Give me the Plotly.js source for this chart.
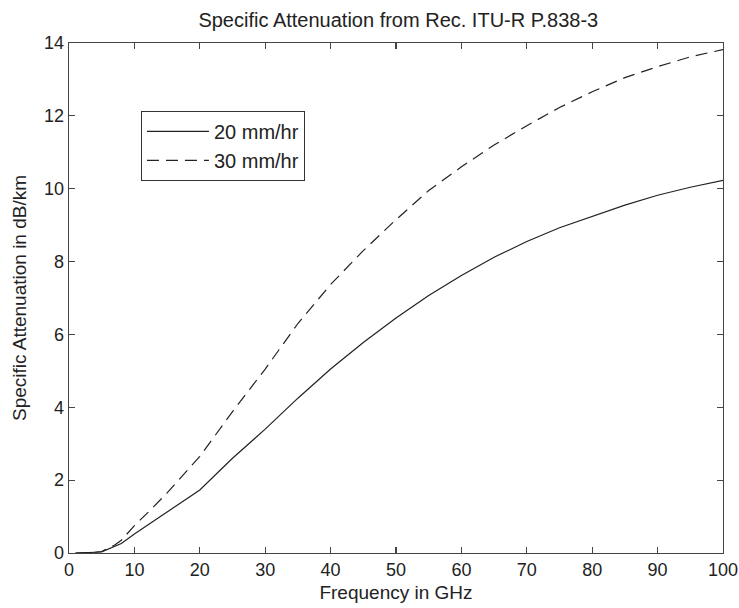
<!DOCTYPE html>
<html>
<head>
<meta charset="utf-8">
<script src="https://cdn.plot.ly/plotly-3.0.1.min.js"></script>
<style>html,body{margin:0;padding:0;background:#fff;}#chart{width:739px;height:608px;}</style>
</head>
<body>
<div id="chart"></div>
<script>
const freq = [1, 2, 3, 4, 5, 6, 7, 8, 10, 12, 15, 20, 25, 30, 35, 40, 45, 50, 55, 60, 65, 70, 75, 80, 85, 90, 95, 100];
const att20 = [0.0, 0.0, 0.01, 0.02, 0.03, 0.1, 0.17, 0.26, 0.52, 0.76, 1.12, 1.73, 2.6, 3.4, 4.25, 5.05, 5.78, 6.45, 7.07, 7.62, 8.12, 8.55, 8.93, 9.25, 9.55, 9.82, 10.04, 10.23];
const att30 = [0.0, 0.0, 0.01, 0.02, 0.04, 0.12, 0.22, 0.35, 0.75, 1.1, 1.65, 2.65, 3.88, 5.05, 6.3, 7.37, 8.3, 9.15, 9.95, 10.6, 11.2, 11.73, 12.23, 12.66, 13.05, 13.35, 13.62, 13.82];
const seriesNames = ['20 mm/hr', '30 mm/hr'];
const xTicks = [0, 10, 20, 30, 40, 50, 60, 70, 80, 90, 100];
const yTicks = [0, 2, 4, 6, 8, 10, 12, 14];

const font = 'Liberation Sans, Arial, sans-serif';
const traces = [
  {x: freq, y: att20, name: seriesNames[0], mode: 'lines', line: {color: '#222', width: 1.2, dash: 'solid'}},
  {x: freq, y: att30, name: seriesNames[1], mode: 'lines', line: {color: '#222', width: 1.2, dash: '12px,7px'}}
];
const axisCommon = {
  showgrid: false, zeroline: false, showline: true, linecolor: '#444', linewidth: 1.3,
  mirror: 'ticks', ticks: 'inside', ticklen: 6, tickcolor: '#444', tickwidth: 1.2,
  tickfont: {family: font, size: 18, color: '#222'}
};
const layout = {
  width: 739, height: 608,
  margin: {l: 69, r: 16, t: 43, b: 55},
  paper_bgcolor: '#fff', plot_bgcolor: '#fff',
  title: {text: 'Specific Attenuation from Rec. ITU-R P.838-3', font: {family: font, size: 20, color: '#222'}, x: 0.539, xanchor: 'center', y: 0.967, yanchor: 'middle'},
  xaxis: Object.assign({}, axisCommon, {range: [0, 100], tickvals: xTicks, ticktext: xTicks.map(String),
    title: {text: 'Frequency in GHz', font: {family: font, size: 19, color: '#222'}, standoff: 6}}),
  yaxis: Object.assign({}, axisCommon, {range: [0, 14], tickvals: yTicks, ticktext: yTicks.map(String),
    title: {text: 'Specific Attenuation in dB/km', font: {family: font, size: 19, color: '#222'}, standoff: 12}}),
  showlegend: true,
  legend: {x: 0.11, y: 0.867, xanchor: 'left', yanchor: 'top', bgcolor: '#fff', bordercolor: '#333', borderwidth: 1,
    font: {family: font, size: 20, color: '#222'}, itemwidth: 62, tracegroupgap: 0}
};
Plotly.newPlot('chart', traces, layout, {displayModeBar: false, staticPlot: true});
</script>
</body>
</html>
